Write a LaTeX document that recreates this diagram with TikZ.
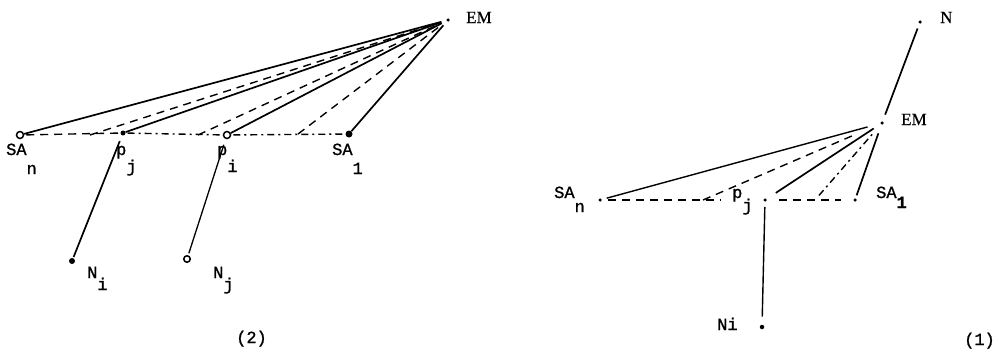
\documentclass[tikz,border=0pt]{standalone}
\usepackage{fontspec}
\setmonofont[FakeBold=1.2]{Liberation Mono}
\newfontfamily\emfont[FakeBold=0.6]{Liberation Serif}
\usetikzlibrary{positioning}
\newcommand{\subdn}[2][16pt]{\raisebox{-#1}{#2}}
\tikzstyle{fdot} = [circle,fill=black,inner sep=0pt,minimum size=5pt]
\tikzstyle{odot} = [circle,draw=black,line width=1.5pt,inner sep=0pt,minimum size=7pt]
\tikzstyle{sdot} = [circle,fill=black,inner sep=0pt,minimum size=3.5pt]
\tikzstyle{lbl} = [anchor=base west,inner sep=0pt,font=\ttfamily\fontsize{17}{20}\selectfont]
\tikzstyle{serlbl} = [anchor=base west,inner sep=0pt,font=\emfont\fontsize{17}{20}\selectfont]
\tikzstyle{solidline} = [line width=1.7pt,shorten >=5pt]
\tikzstyle{dashline} = [line width=1.4pt,dash pattern=on 8pt off 6pt,shorten >=7pt]
\tikzstyle{dotdashline} = [line width=1.4pt,dash pattern=on 7pt off 4pt on 2pt off 4pt,shorten >=7pt]

\begin{document}
\begin{tikzpicture}[x=1pt, y=-1pt]
\useasboundingbox (0,0) rectangle (1003,349);

% Diagram (2)
\node[sdot] (EMa) at (448,20) {};
\node[odot] (SAna) at (20,135) {};
\node[fdot] (pja) at (123,133) {};
\node[odot] (pia) at (227,135) {};
\node[fdot,minimum size=7pt] (SA1a) at (349,134) {};
\node[fdot,minimum size=6pt] (Nia) at (72,261) {};
\node[odot,minimum size=6.5pt] (Nja) at (187,259) {};
\coordinate (qa) at (90,135);
\coordinate (qb) at (198,135);
\coordinate (qc) at (298,134);

% fan to EM
\draw[solidline] (SAna) -- (EMa);
\draw[dashline] (qa) -- (EMa);
\draw[solidline] (pja) -- (EMa);
\draw[dashline] (qb) -- (EMa);
\draw[solidline] (pia) -- (EMa);
\draw[dashline] (qc) -- (EMa);
\draw[solidline] (SA1a) -- (EMa);

% base line
\draw[dashline,shorten >=2pt,shorten <=2pt] (SAna) -- (pja);
\draw[dotdashline,shorten >=2pt,shorten <=2pt] (pja) -- (pia);
\draw[dotdashline,shorten >=2pt,shorten <=2pt] (pia) -- (SA1a);

% down to N
\draw[solidline,shorten >=1pt,shorten <=6pt] (pja) -- (Nia);
\draw[solidline,line width=1.3pt,shorten >=2pt,shorten <=6pt] (pia) -- (Nja);

\node[serlbl] (lEMa) at (466,23) {EM};
\node[lbl] (lSAna) at (6,155) {SA\subdn[19pt]{n}};
\node[lbl] (lpja) at (116,155) {p\subdn[17pt]{j}};
\node[lbl] (lpia) at (217,155) {p\subdn[17pt]{i}};
\node[lbl] (lSA1a) at (332,155) {SA\subdn[19pt]{1}};
\node[lbl] (lNia) at (87,278) {N\subdn[12pt]{i}};
\node[lbl] (lNja) at (213,278) {N\subdn[12pt]{j}};
\node[lbl] (ltwo) at (236,343) {(2)};

% Diagram (1)
\node[sdot] (Nb) at (920,22) {};
\node[sdot] (EMb) at (882,123) {};
\node[sdot] (SAnb) at (600,200) {};
\node[sdot] (pjb) at (765,200) {};
\node[sdot] (SA1b) at (855,200) {};
\node[fdot,minimum size=4.5pt] (Nib) at (762,327) {};
\coordinate (qe) at (703,200);
\coordinate (qf) at (815,200);

\draw[solidline,shorten <=5pt,shorten >=7pt] (Nb) -- (EMb);

% fan to EM
\draw[solidline,line width=1.4pt,shorten <=5pt,shorten >=13pt] (SAnb) -- (EMb);
\draw[dashline,shorten >=30pt] (qe) -- (EMb);
\draw[solidline,shorten <=11pt,shorten >=8pt] (pjb) -- (EMb);
\draw[dotdashline,shorten <=6pt,shorten >=12pt] (qf) -- (EMb);
\draw[solidline,shorten <=3pt,shorten >=9pt] (SA1b) -- (EMb);

% base line
\draw[dashline,shorten >=42pt,shorten <=6pt] (SAnb) -- (pjb);
\draw[dashline,shorten >=12pt,shorten <=12pt] (pjb) -- (SA1b);

\draw[solidline,line width=1.4pt,shorten <=5pt,shorten >=8pt] (pjb) -- (Nib);

\node[serlbl] (lNb) at (940,23) {N};
\node[serlbl] (lEMb) at (901,125) {EM};
\node[lbl] (lSAnb) at (554,198) {SA\subdn[14pt]{n}};
\node[lbl] (lpjb) at (732,198) {p\subdn[13pt]{j}};
\node[lbl] (lSA1b) at (876,198) {SA\subdn[10pt]{\textbf{1}}};
\node[lbl] (lNib) at (717,330) {Ni};
\node[lbl] (lone) at (964,345) {(1)};
\end{tikzpicture}
\end{document}
